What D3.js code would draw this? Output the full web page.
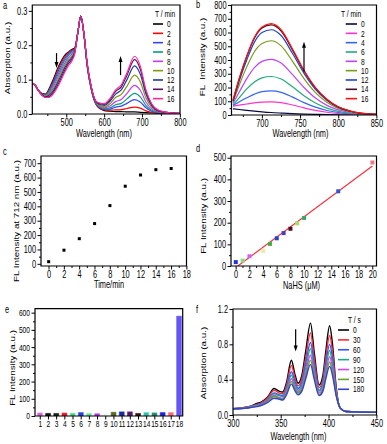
<!DOCTYPE html>
<html>
<head>
<meta charset="utf-8">
<script src="https://cdn.jsdelivr.net/npm/d3@7"></script>
<style>
  body { margin: 0; background: #fff; }
  svg { display: block; }
  line, path, rect { vector-effect: non-scaling-stroke; }
</style>
</head>
<body>
<svg id="fig" width="387" height="444"></svg>
<script>
// ---- data ----------------------------------------------------------------
// (a) absorption vs time
const aTimes = [0, 2, 4, 6, 8, 10, 12, 14, 16];
const aWl = [410, 418, 425, 435, 445, 455, 465, 480, 495, 505, 515, 522, 530, 538, 546, 555, 565, 580, 600, 615, 630, 645, 660, 680, 695, 710, 725, 745, 770, 800];
const aAbs = [
  [0.088, 0.083, 0.070, 0.060, 0.058, 0.075, 0.100, 0.140, 0.170, 0.180, 0.188, 0.192, 0.235, 0.285, 0.235, 0.140, 0.075, 0.025, 0.010, 0.008, 0.007, 0.007, 0.006, 0.006, 0.005, 0.004, 0.003, 0.002, 0.001, 0.000],
  [0.088, 0.083, 0.070, 0.059, 0.056, 0.072, 0.095, 0.135, 0.166, 0.178, 0.186, 0.190, 0.235, 0.285, 0.235, 0.140, 0.076, 0.026, 0.012, 0.011, 0.012, 0.013, 0.016, 0.020, 0.017, 0.009, 0.005, 0.003, 0.002, 0.001],
  [0.088, 0.083, 0.070, 0.058, 0.055, 0.069, 0.090, 0.128, 0.160, 0.174, 0.183, 0.188, 0.235, 0.285, 0.235, 0.141, 0.077, 0.028, 0.014, 0.014, 0.020, 0.023, 0.031, 0.042, 0.035, 0.018, 0.008, 0.004, 0.002, 0.001],
  [0.088, 0.083, 0.070, 0.058, 0.054, 0.066, 0.085, 0.120, 0.154, 0.170, 0.179, 0.186, 0.235, 0.285, 0.235, 0.142, 0.078, 0.029, 0.016, 0.018, 0.027, 0.031, 0.044, 0.060, 0.050, 0.025, 0.011, 0.005, 0.003, 0.001],
  [0.089, 0.083, 0.070, 0.057, 0.053, 0.062, 0.079, 0.113, 0.147, 0.164, 0.175, 0.184, 0.235, 0.285, 0.236, 0.143, 0.079, 0.031, 0.018, 0.023, 0.036, 0.042, 0.060, 0.083, 0.069, 0.035, 0.015, 0.006, 0.003, 0.001],
  [0.089, 0.083, 0.070, 0.057, 0.052, 0.059, 0.073, 0.105, 0.140, 0.158, 0.170, 0.182, 0.235, 0.285, 0.236, 0.144, 0.080, 0.032, 0.021, 0.030, 0.048, 0.057, 0.081, 0.113, 0.094, 0.047, 0.020, 0.007, 0.003, 0.002],
  [0.089, 0.083, 0.070, 0.056, 0.050, 0.055, 0.067, 0.098, 0.133, 0.152, 0.165, 0.180, 0.235, 0.285, 0.236, 0.145, 0.081, 0.033, 0.025, 0.037, 0.058, 0.070, 0.100, 0.140, 0.116, 0.059, 0.025, 0.008, 0.004, 0.002],
  [0.090, 0.083, 0.070, 0.056, 0.049, 0.051, 0.062, 0.090, 0.126, 0.146, 0.160, 0.178, 0.235, 0.285, 0.236, 0.146, 0.082, 0.034, 0.028, 0.042, 0.066, 0.079, 0.113, 0.158, 0.131, 0.066, 0.028, 0.009, 0.004, 0.002],
  [0.090, 0.083, 0.070, 0.055, 0.048, 0.048, 0.058, 0.085, 0.120, 0.140, 0.155, 0.175, 0.235, 0.285, 0.236, 0.147, 0.083, 0.035, 0.030, 0.045, 0.070, 0.085, 0.120, 0.168, 0.140, 0.070, 0.030, 0.010, 0.004, 0.002]
];
const aColors = ['#000000', '#ff0000', '#3344ff', '#00a07a', '#c23cff', '#809a10', '#1c3aa0', '#5c1060', '#ff2a9a'];

// (b) fluorescence vs time
const bTimes = [0, 2, 4, 6, 8, 10, 12, 14, 16];
const bWl = [662, 670, 680, 690, 700, 712, 725, 740, 755, 770, 785, 800, 815, 830, 850];
const bFl = [
  [45, 40, 34, 28, 23, 18, 14, 10, 7, 5, 3, 2, 1, 1, 0],
  [65, 72, 80, 88, 93, 95, 90, 73, 52, 34, 20, 11, 6, 3, 1],
  [70, 95, 125, 152, 170, 175, 165, 130, 90, 57, 33, 18, 9, 4, 2],
  [75, 125, 190, 240, 270, 280, 262, 205, 140, 87, 50, 26, 13, 6, 2],
  [85, 165, 265, 345, 390, 405, 378, 293, 200, 123, 70, 37, 18, 8, 3],
  [95, 215, 350, 460, 520, 540, 503, 390, 265, 163, 93, 48, 24, 10, 4],
  [100, 245, 400, 530, 600, 620, 578, 447, 303, 187, 107, 55, 27, 12, 4],
  [105, 260, 425, 558, 632, 655, 610, 472, 320, 197, 113, 58, 29, 12, 5],
  [110, 265, 430, 565, 640, 665, 620, 480, 325, 200, 115, 60, 30, 13, 5]
];
const bColors = ['#0a0a40', '#ff33cc', '#3366ee', '#22aa77', '#bb44ff', '#7a9a1a', '#2244cc', '#44102a', '#ff1111'];

// (c) intensity at 712 nm
const cTime = [0, 2, 4, 6, 8, 10, 12, 14, 16];
const cInt = [15, 95, 175, 280, 405, 540, 618, 655, 663];

// (d) NaHS titration
const dConc = [0, 1, 2, 4, 5, 6, 7, 8, 9, 10, 15, 20];
const dInt = [18, 25, 45, 70, 102, 128, 152, 172, 197, 222, 345, 478];
const dColors = ['#2233dd', '#88dd88', '#cc66ee', '#e4f0a0', '#44aa44', '#2244cc', '#4a3acc', '#441122', '#aadd66', '#33aa66', '#3355cc', '#ee7788'];

// (e) selectivity
const eIdx = [1, 2, 3, 4, 5, 6, 7, 8, 9, 10, 11, 12, 13, 14, 15, 16, 17, 18];
const eInt = [18, 15, 15, 17, 16, 20, 15, 13, 15, 22, 24, 24, 15, 20, 18, 20, 20, 580];
const eColors = ['#cc66dd', '#111111', '#112211', '#ee1122', '#44cc88', '#2244dd', '#66dd99', '#aa33dd', '#e8f8e8', '#556622', '#1a2a99', '#551a66', '#331111', '#33bbaa', '#228866', '#2222cc', '#ff6677', '#6655ee'];

// (f) absorption vs time (s)
const fTimes = [0, 30, 60, 90, 120, 150, 180];
const fWl = [300, 315, 325, 330, 336, 343, 348, 352, 356, 361, 365, 368, 372, 376, 381, 385, 390, 394, 397, 401, 404, 408, 412, 418, 450];
const fAbs = [
  [0.07, 0.09, 0.13, 0.15, 0.20, 0.30, 0.27, 0.26, 0.37, 0.62, 0.45, 0.36, 0.45, 0.72, 1.04, 0.70, 0.34, 0.45, 0.72, 1.01, 0.80, 0.30, 0.08, 0.04, 0.03],
  [0.07, 0.09, 0.12, 0.14, 0.19, 0.28, 0.25, 0.24, 0.34, 0.56, 0.41, 0.33, 0.41, 0.65, 0.93, 0.63, 0.31, 0.41, 0.65, 0.90, 0.72, 0.28, 0.08, 0.04, 0.03],
  [0.07, 0.085, 0.115, 0.13, 0.17, 0.25, 0.23, 0.22, 0.31, 0.49, 0.37, 0.30, 0.37, 0.58, 0.82, 0.56, 0.28, 0.37, 0.58, 0.80, 0.64, 0.26, 0.08, 0.04, 0.03],
  [0.07, 0.085, 0.11, 0.125, 0.165, 0.24, 0.22, 0.21, 0.29, 0.45, 0.34, 0.28, 0.34, 0.53, 0.75, 0.51, 0.27, 0.34, 0.53, 0.73, 0.58, 0.25, 0.08, 0.04, 0.03],
  [0.07, 0.08, 0.105, 0.12, 0.155, 0.22, 0.20, 0.19, 0.27, 0.41, 0.31, 0.26, 0.31, 0.48, 0.68, 0.47, 0.25, 0.31, 0.48, 0.66, 0.53, 0.23, 0.08, 0.04, 0.03],
  [0.07, 0.08, 0.10, 0.115, 0.15, 0.21, 0.19, 0.18, 0.25, 0.38, 0.29, 0.25, 0.29, 0.44, 0.62, 0.43, 0.23, 0.29, 0.44, 0.60, 0.48, 0.22, 0.08, 0.04, 0.03],
  [0.07, 0.08, 0.095, 0.11, 0.14, 0.19, 0.18, 0.17, 0.23, 0.35, 0.27, 0.23, 0.27, 0.41, 0.57, 0.40, 0.22, 0.27, 0.41, 0.55, 0.45, 0.21, 0.08, 0.04, 0.03]
];
const fColors = ['#000000', '#ff2a3a', '#3355ff', '#20a888', '#cc44ff', '#6aa030', '#3344cc'];

// ---- setup ---------------------------------------------------------------
// the source figure is squeezed horizontally, so draw wide and squash
const SX = 1.35;
const FONT = '"Liberation Sans", Arial, Helvetica, sans-serif';
const svg = d3.select('#fig')
    .attr('viewBox', `0 0 ${387 * SX} 444`)
    .attr('preserveAspectRatio', 'none');
svg.append('rect').attr('width', 387 * SX).attr('height', 444).attr('fill', '#fff');

let clipN = 0;

function panel(o) {
    const x = d3.scaleLinear().domain(o.xd).range([o.l * SX, o.r * SX]);
    const y = d3.scaleLinear().domain(o.yd).range([o.b, o.t]);
    const g = svg.append('g');
    const id = 'clip' + (clipN++);
    g.append('clipPath').attr('id', id).append('rect')
        .attr('x', o.l * SX).attr('y', o.t)
        .attr('width', (o.r - o.l) * SX).attr('height', o.b - o.t);
    const plot = g.append('g').attr('clip-path', `url(#${id})`);

    const ax = g.append('g');
    if (o.xMinor) {
        ax.append('g').attr('transform', `translate(0,${o.b})`)
            .call(d3.axisBottom(x).tickValues(o.xMinor).tickSize(2).tickFormat(''));
    }
    ax.append('g').attr('transform', `translate(0,${o.b})`)
        .call(d3.axisBottom(x).tickValues(o.xt).tickSize(3.5).tickPadding(1)
            .tickFormat(o.xf || d3.format('d')));
    if (o.yMinor) {
        ax.append('g').attr('transform', `translate(${o.l * SX},0)`)
            .call(d3.axisLeft(y).tickValues(o.yMinor).tickSize(2 * SX).tickFormat(''));
    }
    ax.append('g').attr('transform', `translate(${o.l * SX},0)`)
        .call(d3.axisLeft(y).tickValues(o.yt).tickSize(3.5 * SX).tickPadding(1.5 * SX)
            .tickFormat(o.yf || d3.format('d')));
    ax.selectAll('.domain').remove();
    ax.selectAll('line').attr('stroke', '#000').attr('stroke-width', 1);
    ax.selectAll('text').attr('font-size', o.tickFont || 10)
        .attr('font-family', FONT).attr('fill', '#000');

    g.append('rect')
        .attr('x', o.l * SX).attr('y', o.t)
        .attr('width', (o.r - o.l) * SX).attr('height', o.b - o.t)
        .attr('fill', 'none').attr('stroke', '#000').attr('stroke-width', 1.2);

    // panel letter and axis titles
    g.append('text').attr('x', o.letter[0] * SX).attr('y', o.letter[1])
        .attr('font-size', 10).attr('font-family', FONT).text(o.name);
    if (o.xTitle) {
        g.append('text').attr('x', o.xTitle[0] * SX).attr('y', o.xTitle[1])
            .attr('text-anchor', 'middle').attr('font-size', 10)
            .attr('font-family', FONT).text(o.xTitle[2]);
    }
    g.append('text')
        .attr('transform', `translate(${o.yTitle[0] * SX},${o.yTitle[1]}) rotate(-90)`)
        .attr('text-anchor', 'middle').attr('font-size', 9.8)
        .attr('font-family', FONT).attr('xml:space', 'preserve').text(o.yTitle[2]);
    return { g, x, y, plot };
}

function curves(p, xs, series, colors, width) {
    const line = d3.line()
        .x((d, i) => p.x(xs[i]))
        .y(d => p.y(d))
        .curve(d3.curveMonotoneX);
    p.plot.selectAll('path.curve')
        .data(series)
        .enter()
        .append('path')
        .attr('class', 'curve')
        .attr('d', line)
        .attr('fill', 'none')
        .attr('stroke', (d, i) => colors[i])
        .attr('stroke-width', width);
}

function legend(p, title, labels, colors, o) {
    p.g.append('text').attr('x', o.tx * SX).attr('y', o.ty)
        .attr('font-size', 9).attr('font-family', FONT).text(title);
    labels.forEach((lab, i) => {
        const yy = o.y0 + i * o.dy;
        p.g.append('line')
            .attr('x1', o.x1 * SX).attr('x2', o.x2 * SX)
            .attr('y1', yy).attr('y2', yy)
            .attr('stroke', colors[i]).attr('stroke-width', 1.6);
        p.g.append('text').attr('x', o.lx * SX).attr('y', yy + 3.2)
            .attr('font-size', 9).attr('font-family', FONT).text(lab);
    });
}

function arrow(p, xv, yFrom, yTo) {
    const X = p.x(xv), y0 = p.y(yFrom), y1 = p.y(yTo);
    const dir = y1 > y0 ? 1 : -1;
    p.g.append('line').attr('x1', X).attr('x2', X)
        .attr('y1', y0).attr('y2', y1 - dir * 5)
        .attr('stroke', '#000').attr('stroke-width', 1.2);
    p.g.append('path')
        .attr('d', `M${X - 2 * SX},${y1 - dir * 6}L${X + 2 * SX},${y1 - dir * 6}L${X},${y1}Z`)
        .attr('fill', '#000');
}

// ---- (a) -----------------------------------------------------------------
const pa = panel({
    name: 'a', letter: [3, 9],
    l: 32.3, r: 180, t: 5, b: 114,
    xd: [410, 800], yd: [0, 0.317],
    xt: [500, 600, 700, 800], xMinor: [450, 550, 650, 750],
    yt: [0, 0.1, 0.2, 0.3], yMinor: [0.05, 0.15, 0.25], yf: d3.format('.1f'),
    xTitle: [104, 137, 'Wavelength (nm)'],
    yTitle: [9.5, 58, 'Absorption (a.u.)']
});
curves(pa, aWl, aAbs, aColors, 1.2);
legend(pa, 'T / min', aTimes.map(String), aColors,
    { tx: 155, ty: 17, y0: 24, dy: 9.33, x1: 153, x2: 163, lx: 167 });
arrow(pa, 474, 0.177, 0.134);
arrow(pa, 643, 0.113, 0.169);

// ---- (b) -----------------------------------------------------------------
const pb = panel({
    name: 'b', letter: [196, 8],
    l: 231.5, r: 376.5, t: 5, b: 115,
    xd: [660, 850], yd: [0, 800],
    xt: [700, 750, 800, 850], xMinor: [675, 725, 775, 825],
    yt: d3.range(0, 801, 100), yMinor: d3.range(50, 800, 100),
    xTitle: [300.5, 137.5, 'Wavelength (nm)'],
    yTitle: [204.5, 57, 'FL  Intensity (a.u.)']
});
curves(pb, bWl, bFl, bColors, 1.2);
legend(pb, 'T / min', bTimes.map(String), bColors,
    { tx: 341, ty: 17, y0: 24, dy: 9.33, x1: 345.7, x2: 357, lx: 361 });
arrow(pb, 755, 315, 533);

// ---- (c) -----------------------------------------------------------------
const pc = panel({
    name: 'c', letter: [3, 155.5],
    l: 41, r: 186.5, t: 156, b: 266,
    xd: [-1, 18], yd: [-15, 750],
    xt: d3.range(0, 19, 2), xMinor: d3.range(1, 18, 2),
    yt: d3.range(0, 701, 100), yMinor: d3.range(50, 750, 100),
    xTitle: [109, 288.5, 'Time/min'],
    yTitle: [18.5, 221, 'FL Intensity at 712 nm (a.u.)']
});
pc.plot.selectAll('rect.pt')
    .data(cTime)
    .enter()
    .append('rect')
    .attr('class', 'pt')
    .attr('x', d => pc.x(d) - 1.5 * SX)
    .attr('y', (d, i) => pc.y(cInt[i]) - 1.5)
    .attr('width', 3 * SX).attr('height', 3)
    .attr('fill', '#000');

// ---- (d) -----------------------------------------------------------------
const pd = panel({
    name: 'd', letter: [196, 152.5],
    l: 231, r: 376.5, t: 156, b: 266,
    xd: [-0.7, 20.6], yd: [0, 508],
    xt: d3.range(0, 21, 2), xMinor: d3.range(1, 20, 2),
    yt: d3.range(0, 501, 100), yMinor: d3.range(50, 500, 100),
    xTitle: [301.5, 289, 'NaHS (\u03bcM)'],
    yTitle: [206.5, 216, 'FL Intensity (a.u.)']
});
// least-squares fit of the titration points
const dFit = (() => {
    const mx = d3.mean(dConc), my = d3.mean(dInt);
    const sxy = d3.sum(dConc, (c, i) => (c - mx) * (dInt[i] - my));
    const sxx = d3.sum(dConc, c => (c - mx) * (c - mx));
    const k = sxy / sxx;
    return { k, b: my - k * mx };
})();
const dLineX = [-dFit.b / dFit.k, d3.max(dConc)];
pd.plot.append('path')
    .datum(dLineX)
    .attr('d', d3.line().x(d => pd.x(d)).y(d => pd.y(dFit.k * d + dFit.b)))
    .attr('fill', 'none').attr('stroke', '#ff2a3a').attr('stroke-width', 1.1);
pd.plot.selectAll('rect.pt')
    .data(dConc)
    .enter()
    .append('rect')
    .attr('class', 'pt')
    .attr('x', d => pd.x(d) - 2 * SX)
    .attr('y', (d, i) => pd.y(dInt[i]) - 2)
    .attr('width', 4 * SX).attr('height', 4)
    .attr('fill', (d, i) => dColors[i]);

// ---- (e) -----------------------------------------------------------------
const pe = panel({
    name: 'e', letter: [5, 313],
    l: 35, r: 182.7, t: 308.7, b: 416,
    xd: [0.4, 18.45], yd: [0, 623],
    xt: eIdx, tickFont: 9,
    yt: d3.range(0, 601, 100), yMinor: d3.range(50, 600, 100),
    yTitle: [14.5, 368, 'FL Intensity (a.u.)']
});
pe.plot.selectAll('rect.bar')
    .data(eIdx)
    .enter()
    .append('rect')
    .attr('class', 'bar')
    .attr('x', d => pe.x(d - 0.3))
    .attr('width', d => pe.x(d + 0.3) - pe.x(d - 0.3))
    .attr('y', (d, i) => pe.y(eInt[i]))
    .attr('height', (d, i) => pe.y(0) - pe.y(eInt[i]))
    .attr('fill', (d, i) => eColors[i])
    .attr('stroke', (d, i) => d3.color(eColors[i]).brighter(0.6))
    .attr('stroke-width', 0.6);

// ---- (f) -----------------------------------------------------------------
const pf = panel({
    name: 'f', letter: [196, 313],
    l: 233, r: 376.5, t: 309, b: 415,
    xd: [300, 450], yd: [0, 1.2],
    xt: [300, 350, 400, 450], xMinor: [325, 375, 425],
    yt: [0, 0.4, 0.8, 1.2], yMinor: [0.2, 0.6, 1.0], yf: d3.format('.1f'),
    xTitle: [298.5, 440, 'Wavelength (nm)'],
    yTitle: [206.5, 363, 'Absorption (a.u.)']
});
curves(pf, fWl, fAbs, fColors, 1.4);
legend(pf, 'T / s', fTimes.map(String), fColors,
    { tx: 348, ty: 323, y0: 330, dy: 9.88, x1: 338, x2: 349, lx: 353 });
arrow(pf, 365.5, 0.97, 0.72);
</script>
</body>
</html>
